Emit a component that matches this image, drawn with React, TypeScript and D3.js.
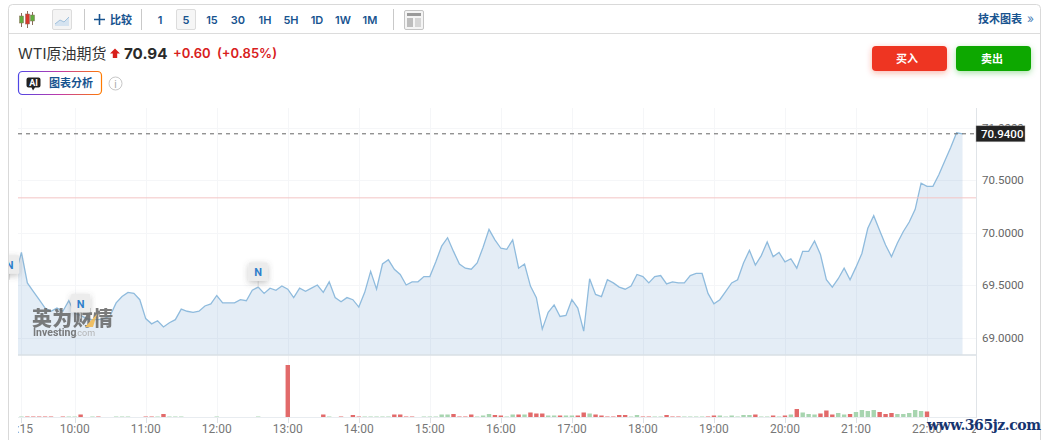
import * as React from 'react';
import * as d3 from 'd3';

// 5 minute closes, first one is 9:10 (only the stub of it shows at the left edge)
const firstCloseTime = '9:10';
const closes = [
  69.60, 69.81, 69.52, 69.44, 69.36, 69.28, 69.25, 69.28, 69.25, 69.35,
  69.23, 69.21, 69.18, 69.17, 69.17, 69.18, 69.21, 69.33, 69.39, 69.43, 69.42, 69.36,
  69.18, 69.13, 69.16, 69.10, 69.14, 69.17, 69.27, 69.25, 69.24, 69.25, 69.30, 69.32,
  69.40, 69.33, 69.33, 69.33, 69.36, 69.35, 69.45, 69.48, 69.42, 69.47, 69.45, 69.49,
  69.46, 69.38, 69.47, 69.44, 69.47, 69.50, 69.43, 69.53, 69.38, 69.34, 69.38, 69.36,
  69.29, 69.43, 69.63, 69.46, 69.70, 69.74, 69.65, 69.60, 69.50, 69.53, 69.53, 69.58,
  69.58, 69.72, 69.87, 69.95, 69.82, 69.70, 69.66, 69.65, 69.71, 69.86, 70.03, 69.93,
  69.85, 69.84, 69.93, 69.66, 69.70, 69.49, 69.38, 69.08, 69.24, 69.31, 69.20, 69.21,
  69.36, 69.28, 69.06, 69.56, 69.41, 69.39, 69.55, 69.52, 69.48, 69.46, 69.49, 69.60,
  69.58, 69.52, 69.58, 69.59, 69.51, 69.53, 69.52, 69.52, 69.59, 69.61, 69.61, 69.42,
  69.32, 69.36, 69.44, 69.52, 69.55, 69.71, 69.83, 69.69, 69.78, 69.91, 69.77, 69.81,
  69.72, 69.75, 69.66, 69.82, 69.82, 69.92, 69.79, 69.55, 69.48, 69.56, 69.66, 69.55,
  69.67, 69.80, 70.04, 70.16, 70.02, 69.88, 69.77, 69.90, 70.01, 70.10, 70.22, 70.47,
  70.44, 70.44, 70.55, 70.68, 70.81, 70.95, 70.94,
];

// volume per 5 minutes from 9:15, sign is the bar colour: + red, - green
const firstVolumeTime = '9:15';
const volumes = [
  -5, 5, 5, 5, 5, 5, 0, 5, -5,
  -5, 25, 0, -5, 5, 0, 0, -5, -5, -5, 0, 0,
  5, 5, -5, 30, -5, -5, -5, 0, 0, 0, 0, 0,
  -5, 0, 0, 0, 0, 0, 0, -5, 0, 0, 0, 0,
  520, 0, 0, 0, 0, 0, 25, -5, 0, 5, 0, 20,
  5, -5, -5, -5, -5, -5, 25, 25, 5, 5, 0, -5,
  -5, -5, -25, -25, 30, 5, 5, 25, -5, -15, -30, 20,
  15, -5, -25, 25, -25, 45, 35, 35, -15, -15, 15, -15,
  -15, 15, 45, -35, 25, 15, 5, 5, 20, 20, -5, -20,
  5, 5, -5, -5, 20, 5, 5, -5, -5, -5, -5, 5,
  15, -15, -5, -15, -5, -20, -20, 25, -5, -5, 15, -5,
  15, -25, 80, -45, -30, -25, 35, 65, 25, -40, -25, 30,
  -50, -70, -60, -70, 50, 30, 40, -30, -30, -40, -70, -60,
  55,
];

const timeTicks = ['9:15', '10:00', '11:00', '12:00', '13:00', '14:00', '15:00', '16:00', '17:00', '18:00', '19:00', '20:00', '21:00', '22:00'];
const clippedTimeLabel = '22:50';
const priceTicks = [69, 69.5, 70, 70.5, 71];
const lastPrice = 70.94;
const prevClose = 70.33;
const newsTimes = ['9:05', '10:05', '12:35'];
const newsPrices = [69.55, 69.18, 69.48];
const intervals = ['1', '5', '15', '30', '1H', '5H', '1D', '1W', '1M'];
const intervalX = [160, 186, 212, 238, 265, 291, 317, 343, 370];

const CJK = '"Inter","Noto Sans CJK SC",sans-serif';
const NUM = 'Roboto,sans-serif';
const BLUE = '#17538f';

const minutes = (t: string) => {
  const [h, m] = t.split(':').map(Number);
  return h * 60 + m;
};

export default function App() {
  const ref = React.useRef<SVGSVGElement>(null);

  React.useEffect(() => {
    const el = ref.current;
    if (!el) { return; }
    el.innerHTML = '';
    const svg = d3.select(el);
    const left = 18, right = 976, top = 108, mainBottom = 355, volBottom = 417;

    const x = d3.scaleLinear().domain([600, 1320]).range([74.7, 927]);
    const y = d3.scaleLinear().domain([69, 71]).range([337.5, 127.5]);
    const v = d3.scaleLinear().domain([0, 520]).range([volBottom, 365]);

    const defs = svg.append('defs');
    defs.append('clipPath').attr('id', 'plot').append('rect')
      .attr('x', left).attr('y', top).attr('width', right - left).attr('height', mainBottom - top);
    defs.append('clipPath').attr('id', 'labels').append('rect')
      .attr('x', left).attr('y', 418).attr('width', right - left).attr('height', 22);
    defs.append('clipPath').attr('id', 'card').append('rect')
      .attr('x', 9).attr('y', 5).attr('width', 1032).attr('height', 435);
    const grad = defs.append('linearGradient').attr('id', 'aiBorder');
    grad.append('stop').attr('offset', '0%').attr('stop-color', '#4f46e5');
    grad.append('stop').attr('offset', '50%').attr('stop-color', '#c23aa8');
    grad.append('stop').attr('offset', '100%').attr('stop-color', '#ff7a00');
    const shadow = (id: string, color: string) => {
      const f = defs.append('filter').attr('id', id).attr('x', '-30%').attr('y', '-50%').attr('width', '160%').attr('height', '220%');
      f.append('feDropShadow').attr('dx', 0).attr('dy', 2).attr('stdDeviation', 3).attr('flood-color', color).attr('flood-opacity', 0.35);
    };
    shadow('redShadow', '#ee3524');
    shadow('greenShadow', '#0ca800');
    shadow('flagShadow', '#555555');

    // card and toolbar
    svg.append('rect').attr('x', 8.5).attr('y', 4.5).attr('width', 1032).attr('height', 450).attr('rx', 4)
      .attr('fill', '#fff').attr('stroke', '#d9d9d9');
    svg.append('line').attr('x1', 9).attr('x2', 1040).attr('y1', 33.5).attr('y2', 33.5).attr('stroke', '#dcdcdc');
    [84.5, 141.5, 393.5].forEach(sx => {
      svg.append('line').attr('x1', sx).attr('x2', sx).attr('y1', 9).attr('y2', 30).attr('stroke', '#c9c9c9');
    });

    // candle icon
    const candles = svg.append('g');
    [[21.5, 16, 23, '#5fae3f'], [27.5, 14, 24, '#d8382c'], [32.5, 15, 21, '#5fae3f']].forEach(([cx, y0, y1, c]) => {
      candles.append('line').attr('x1', cx as number).attr('x2', cx as number).attr('y1', (y0 as number) - 3).attr('y2', (y1 as number) + 4).attr('stroke', '#8a6d5a');
      candles.append('rect').attr('x', (cx as number) - 2).attr('y', y0 as number).attr('width', 4).attr('height', (y1 as number) - (y0 as number))
        .attr('fill', c as string).attr('stroke', '#8a6d5a').attr('stroke-width', 0.5);
    });

    // line icon
    svg.append('rect').attr('x', 52.5).attr('y', 9.5).attr('width', 19).attr('height', 20).attr('rx', 1.5).attr('fill', '#f4f4f4').attr('stroke', '#dcdcdc');
    svg.append('path').attr('d', 'M55,24 L60,20 L64,22 L69,17 L69,26 L55,26 Z').attr('fill', '#d5e3f0');
    svg.append('path').attr('d', 'M55,24 L60,20 L64,22 L69,17').attr('fill', 'none').attr('stroke', '#9fc0dc');

    // compare
    svg.append('path').attr('d', 'M94,19.5 H105 M99.5,14 V25').attr('stroke', BLUE).attr('stroke-width', 1.6);
    svg.append('text').attr('x', 110).attr('y', 23.5).text('比较')
      .attr('font-family', CJK).attr('font-size', 11).attr('font-weight', 700).attr('fill', BLUE);

    // intervals
    svg.append('rect').attr('x', 176.5).attr('y', 9.5).attr('width', 19).attr('height', 20).attr('rx', 1.5).attr('fill', '#f6f6f6').attr('stroke', '#dcdcdc');
    svg.append('g').selectAll('text').data(intervals).enter().append('text')
      .attr('x', (_, i) => intervalX[i]).attr('y', 23.5).attr('text-anchor', 'middle').text(d => d)
      .attr('font-family', CJK).attr('font-size', 11).attr('font-weight', 600).attr('fill', BLUE);

    // layout icon
    svg.append('rect').attr('x', 404.5).attr('y', 10.5).attr('width', 19).attr('height', 19).attr('rx', 1.5).attr('fill', '#f4f4f4').attr('stroke', '#c4c4c4');
    svg.append('rect').attr('x', 407).attr('y', 13).attr('width', 14).attr('height', 3).attr('fill', '#9a9a9a');
    svg.append('rect').attr('x', 407).attr('y', 18).attr('width', 6).attr('height', 9).attr('fill', '#bdbdbd');
    svg.append('rect').attr('x', 415).attr('y', 18).attr('width', 6).attr('height', 9).attr('fill', '#d5d5d5');

    svg.append('text').attr('x', 978).attr('y', 23).text('技术图表')
      .attr('font-family', CJK).attr('font-size', 11).attr('font-weight', 600).attr('fill', BLUE);
    svg.append('text').attr('x', 1027).attr('y', 23).text('»')
      .attr('font-family', CJK).attr('font-size', 12).attr('fill', '#4f83b8');

    // headline
    svg.append('text').attr('x', 18).attr('y', 59).text('WTI原油期货')
      .attr('font-family', CJK).attr('font-size', 15).attr('fill', '#333');
    svg.append('path').attr('d', 'M115,48.5 L120,53.5 H117.2 V58 H112.8 V53.5 H110 Z').attr('fill', '#d8201c');
    svg.append('text').attr('x', 124).attr('y', 59).text('70.94')
      .attr('font-family', CJK).attr('font-size', 15.2).attr('font-weight', 700).attr('fill', '#2a2a2a');
    svg.append('text').attr('x', 173).attr('y', 58).text('+0.60')
      .attr('font-family', CJK).attr('font-size', 13).attr('font-weight', 600).attr('fill', '#d8201c');
    svg.append('text').attr('x', 217).attr('y', 58).text('(+0.85%)')
      .attr('font-family', CJK).attr('font-size', 13).attr('font-weight', 600).attr('fill', '#d8201c');

    // AI button
    svg.append('rect').attr('x', 18.5).attr('y', 71.5).attr('width', 83).attr('height', 23).attr('rx', 4)
      .attr('fill', '#fff').attr('stroke', 'url(#aiBorder)').attr('stroke-width', 1.2);
    svg.append('path').attr('d', 'M28.5,77.5 H38.5 Q40.5,77.5 40.5,79.5 V85.5 Q40.5,87.5 38.5,87.5 H35 L33,90.5 L31.5,87.5 H28.5 Q26.5,87.5 26.5,85.5 V79.5 Q26.5,77.5 28.5,77.5 Z').attr('fill', '#222');
    svg.append('text').attr('x', 33.5).attr('y', 86).attr('text-anchor', 'middle').text('AI')
      .attr('font-family', NUM).attr('font-size', 9).attr('font-weight', 700).attr('fill', '#fff');
    svg.append('text').attr('x', 49).attr('y', 87).text('图表分析')
      .attr('font-family', CJK).attr('font-size', 11).attr('font-weight', 600).attr('fill', BLUE);
    svg.append('circle').attr('cx', 115.5).attr('cy', 83.5).attr('r', 6.5).attr('fill', '#fff').attr('stroke', '#c8c8c8');
    svg.append('text').attr('x', 115.5).attr('y', 87.5).attr('text-anchor', 'middle').text('i')
      .attr('font-family', NUM).attr('font-size', 10).attr('fill', '#a8a8a8');

    // buy / sell
    [[872, 35, '#ee3524', 'redShadow', '买入'], [956, 36, '#0ca800', 'greenShadow', '卖出']].forEach(([bx, mid, c, f, label]) => {
      svg.append('rect').attr('x', bx as number).attr('y', 46).attr('width', 75).attr('height', 25).attr('rx', 4)
        .attr('fill', c as string).attr('filter', `url(#${f})`);
      svg.append('text').attr('x', (bx as number) + (mid as number)).attr('y', 62.5).attr('text-anchor', 'middle').text(label as string)
        .attr('font-family', CJK).attr('font-size', 11).attr('font-weight', 700).attr('fill', '#fff');
    });

    // grid
    const grid = svg.append('g').attr('stroke', '#f5f6f8');
    timeTicks.forEach(t => {
      const gx = Math.round(x(minutes(t))) + 0.5;
      grid.append('line').attr('x1', gx).attr('x2', gx).attr('y1', top).attr('y2', volBottom);
    });
    priceTicks.forEach(p => {
      const gy = Math.round(y(p)) + 0.5;
      grid.append('line').attr('x1', left).attr('x2', right).attr('y1', gy).attr('y2', gy);
    });

    // price area
    const points = closes.map((c, i) => [minutes(firstCloseTime) + i * 5, c] as [number, number]);
    const plot = svg.append('g').attr('clip-path', 'url(#plot)');
    plot.append('path').datum(points)
      .attr('d', d3.area<[number, number]>().x(d => x(d[0])).y0(mainBottom).y1(d => y(d[1])))
      .attr('fill', '#2e75b6').attr('fill-opacity', 0.13);
    plot.append('path').datum(points)
      .attr('d', d3.line<[number, number]>().x(d => x(d[0])).y(d => y(d[1])))
      .attr('fill', 'none').attr('stroke', '#8fbbdd').attr('stroke-width', 1.3);

    // separator and axis line
    svg.append('line').attr('x1', left).attr('x2', right).attr('y1', 355).attr('y2', 355).attr('stroke', '#d9dfe4').attr('stroke-width', 1.5);
    svg.append('line').attr('x1', left).attr('x2', right).attr('y1', volBottom + 0.5).attr('y2', volBottom + 0.5).attr('stroke', '#e8ecf0');
    svg.append('line').attr('x1', right + 0.5).attr('x2', right + 0.5).attr('y1', top).attr('y2', volBottom + 1).attr('stroke', '#e0e4e8');

    // previous close and last price
    svg.append('line').attr('x1', left).attr('x2', right).attr('y1', y(prevClose)).attr('y2', y(prevClose)).attr('stroke', '#f3c4c4');
    svg.append('line').attr('x1', left).attr('x2', right).attr('y1', y(lastPrice)).attr('y2', y(lastPrice))
      .attr('stroke', '#666').attr('stroke-dasharray', '4,4');

    // volume
    const firstVol = minutes(firstVolumeTime);
    svg.append('g').selectAll('rect').data(volumes).enter().append('rect')
      .attr('x', (_, i) => x(firstVol + i * 5) - 2.2)
      .attr('y', d => v(Math.abs(d)))
      .attr('width', 4.4)
      .attr('height', d => volBottom - v(Math.abs(d)))
      .attr('fill', d => d > 0 ? '#e26a6a' : '#a8d5b0');

    // time axis
    const xAxis = svg.append('g').attr('clip-path', 'url(#labels)');
    xAxis.selectAll('text').data([...timeTicks, clippedTimeLabel]).enter().append('text')
      .attr('x', d => x(minutes(d))).attr('y', 433).attr('text-anchor', 'middle').text(d => d)
      .attr('font-family', NUM).attr('font-size', 12).attr('fill', '#777');
    xAxis.selectAll('line').data(timeTicks).enter().append('line')
      .attr('x1', d => Math.round(x(minutes(d))) + 0.5).attr('x2', d => Math.round(x(minutes(d))) + 0.5)
      .attr('y1', 418).attr('y2', 423).attr('stroke', '#dde1e5');

    // price axis
    svg.append('g').selectAll('text').data(priceTicks).enter().append('text')
      .attr('x', 982).attr('y', d => y(d) + 4.2).text(d => d.toFixed(4))
      .attr('font-family', NUM).attr('font-size', 11.5).attr('fill', '#666');
    svg.append('rect').attr('x', right).attr('y', y(lastPrice) - 8).attr('width', 49).attr('height', 16)
      .attr('fill', '#222').attr('stroke', '#aaa').attr('stroke-width', 0.5);
    svg.append('text').attr('x', 981).attr('y', y(lastPrice) + 4.2).text(lastPrice.toFixed(4))
      .attr('font-family', NUM).attr('font-size', 11.5).attr('font-weight', 500).attr('fill', '#fff');

    // Investing watermark
    const mark = svg.append('g').attr('opacity', 0.85);
    mark.append('text').attr('x', 32).attr('y', 326).text('英为财情')
      .attr('font-family', '"Noto Sans CJK SC",sans-serif').attr('font-size', 20).attr('font-weight', 900).attr('fill', '#666')
      .attr('textLength', 81);
    mark.append('path').attr('d', 'M85,327 L97,314 L93,327 Z').attr('fill', '#f2b84b');
    mark.append('text').attr('x', 33).attr('y', 336).text('Investing')
      .attr('font-family', NUM).attr('font-size', 10.5).attr('font-weight', 700).attr('fill', '#666');
    mark.append('text').attr('x', 75).attr('y', 336).text('.com')
      .attr('font-family', NUM).attr('font-size', 9).attr('fill', '#aaa');

    // news flags
    const flags = svg.append('g').attr('clip-path', 'url(#card)').selectAll('g').data(newsTimes).enter().append('g')
      .attr('transform', (d, i) => `translate(${x(minutes(d))},${y(newsPrices[i])})`);
    flags.append('line').attr('y1', 0).attr('y2', -6).attr('stroke', '#ddd');
    flags.append('rect').attr('x', -9.5).attr('y', -24.5).attr('width', 19).attr('height', 18.5).attr('rx', 1)
      .attr('fill', '#ececec').attr('filter', 'url(#flagShadow)');
    flags.append('text').attr('y', -11).attr('text-anchor', 'middle').text('N')
      .attr('font-family', NUM).attr('font-size', 11).attr('font-weight', 700).attr('fill', '#2f7fcb');

    // site stamp over the corner
    svg.append('text').attr('x', 927).attr('y', 430).text('www.365jz.com')
      .attr('font-family', '"DejaVu Serif",serif').attr('font-size', 14).attr('font-weight', 700).attr('fill', '#16346f')
      .attr('textLength', 114);
  }, []);

  return (
    <svg ref={ref} width={1049} height={440} style={{ position: 'fixed', left: 0, top: 0, background: '#fff' }}></svg>
  );
}
